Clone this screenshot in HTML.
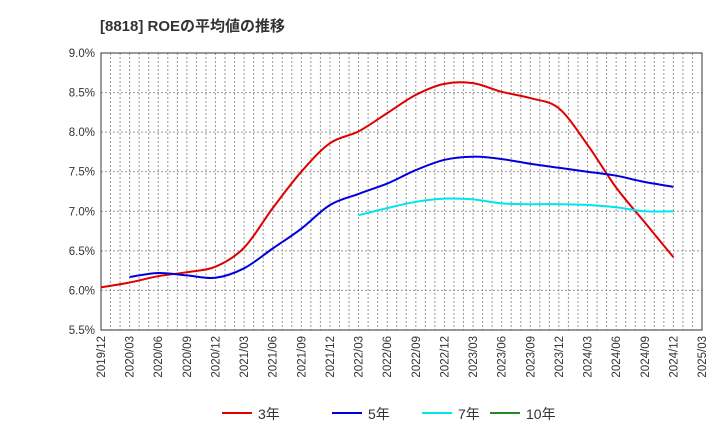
<!DOCTYPE html>
<html><head><meta charset="utf-8"><style>
body{margin:0;background:#fff;font-family:"Liberation Sans","Noto Sans CJK JP",sans-serif;}
</style></head><body>
<svg id="c" width="720" height="440" xmlns="http://www.w3.org/2000/svg" font-family="Liberation Sans, Noto Sans CJK JP, sans-serif">
<text x="100" y="31" font-size="15" font-weight="bold" fill="#333">[8818]  ROEの平均値の推移</text>
<g id="grid"></g><g id="axes"></g><g id="series"></g><g id="legend"></g>
</svg>
<script>
const xLabels=["2019/12","2020/03","2020/06","2020/09","2020/12","2021/03","2021/06","2021/09","2021/12","2022/03","2022/06","2022/09","2022/12","2023/03","2023/06","2023/09","2023/12","2024/03","2024/06","2024/09","2024/12","2025/03"];
const yTicks=[5.5,6.0,6.5,7.0,7.5,8.0,8.5,9.0];
const roe3=[6.04,6.10,6.18,6.23,6.30,6.54,7.04,7.50,7.86,8.01,8.24,8.47,8.61,8.62,8.51,8.43,8.30,7.84,7.30,6.86,6.42];
const roe5=[null,6.17,6.22,6.19,6.16,6.28,6.53,6.78,7.08,7.22,7.35,7.52,7.65,7.69,7.66,7.60,7.55,7.50,7.45,7.37,7.31];
const roe7=[null,null,null,null,null,null,null,null,null,6.95,7.04,7.12,7.16,7.15,7.10,7.09,7.09,7.08,7.05,7.00,7.00];
const roe10=[];
const L=101,R=702,T=53,B=330,NS="http://www.w3.org/2000/svg";
const qw=(R-L)/(xLabels.length-1);
const X=i=>L+i*qw, Y=v=>B-(v-5.5)/3.5*(B-T);
function mk(t,a,p){const e=document.createElementNS(NS,t);for(const k in a)e.setAttribute(k,a[k]);p.appendChild(e);return e;}
const g=document.getElementById('grid'),ax=document.getElementById('axes'),s=document.getElementById('series'),lg=document.getElementById('legend');
for(let m=1;m<(xLabels.length-1)*3;m++){const x=L+m*qw/3;const l=mk('line',{x1:x,x2:x,y1:T,y2:B,stroke:'#999','stroke-dasharray':'2,2','stroke-width':1},g);

}
yTicks.forEach(v=>{const y=Y(v);const l=mk('line',{x1:L,x2:R,y1:y,y2:y,stroke:'#999','stroke-dasharray':'2,2'},g);


const t=mk('text',{x:L-6,y:y+4,'text-anchor':'end','font-size':11.5,fill:'#333'},ax);t.textContent=v.toFixed(1)+'%';

});
const fr=mk('rect',{x:L,y:T,width:R-L,height:B-T,fill:'none',stroke:'#333'},ax);


xLabels.forEach((lb,i)=>{const x=X(i);const t=mk('text',{x:x+4,y:B+6,'text-anchor':'end','font-size':11.5,fill:'#333',transform:`rotate(-90 ${x+4} ${B+6})`},ax);t.textContent=lb;

});
function line(d,c,n){const pts=[];d.forEach((v,i)=>{if(v!=null)pts.push([X(i),Y(v)]);});
if(pts.length<2)return;let p='M'+pts[0][0].toFixed(1)+','+pts[0][1].toFixed(1);
for(let i=0;i<pts.length-1;i++){const p0=pts[i-1]||pts[i],p1=pts[i],p2=pts[i+1],p3=pts[i+2]||p2;
const c1=[p1[0]+(p2[0]-p0[0])/6,p1[1]+(p2[1]-p0[1])/6],c2=[p2[0]-(p3[0]-p1[0])/6,p2[1]-(p3[1]-p1[1])/6];
p+=`C${c1[0].toFixed(1)},${c1[1].toFixed(1)} ${c2[0].toFixed(1)},${c2[1].toFixed(1)} ${p2[0].toFixed(1)},${p2[1].toFixed(1)}`;}
const e=mk('path',{d:p,fill:'none',stroke:c,'stroke-width':2,'stroke-linejoin':'round'},s);

}
line(roe3,'#e00000','line-3yr');line(roe5,'#0000dd','line-5yr');line(roe7,'#00e5ee','line-7yr');line(roe10,'#228b22','line-10yr');
[['3年','#e00000',222],['5年','#0000dd',332],['7年','#00e5ee',422],['10年','#228b22',490]].forEach(([n,c,x])=>{
const gg=mk('g',{},lg);


mk('line',{x1:x,x2:x+30,y1:413,y2:413,stroke:c,'stroke-width':2},gg);
const t=mk('text',{x:x+36,y:419,'font-size':14,fill:'#333'},gg);t.textContent=n;});
</script>
</body></html>
